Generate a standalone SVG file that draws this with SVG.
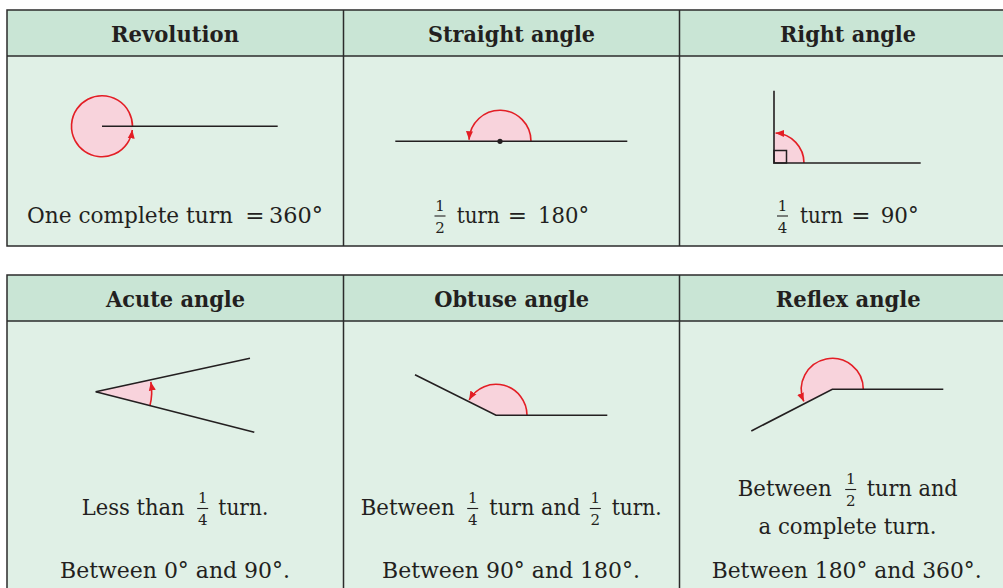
<svg xmlns="http://www.w3.org/2000/svg" width="1003" height="588" viewBox="0 0 1003 588" font-family="DejaVu Serif, Liberation Serif, serif">
<style>
.hd{fill:#c9e5d5}
.bd{fill:#e0f0e6}
.bo{fill:none;stroke:#2b2b2b;stroke-width:1.5}
.ht{font-weight:bold;font-size:23px;fill:#231f20;text-anchor:middle}
.t{font-size:23px;fill:#231f20}
.m{text-anchor:middle}
.e{text-anchor:middle}
.f{font-size:15px;fill:#231f20;text-anchor:middle}
.fb{stroke:#231f20;stroke-width:1.1}
.ray{fill:none;stroke:#231f20;stroke-width:1.6}
.pk{fill:#f8d3dc;stroke:none}
.arc{fill:none;stroke:#e31e25;stroke-width:1.6}
</style>
<defs>
<marker id="ah" markerUnits="userSpaceOnUse" markerWidth="9" markerHeight="8" refX="8.5" refY="4" orient="auto">
<path d="M0,0.5 L8.5,4 L0,7.5 Z" fill="#e31e25"/>
</marker>
</defs>
<rect width="1003" height="588" fill="#ffffff"/>

<g id="table1">
<rect class="hd" x="7" y="10" width="1010" height="46"/>
<rect class="bd" x="7" y="56" width="1010" height="190"/>
<rect class="bo" x="7" y="10" width="1010" height="236"/>
<line class="bo" x1="7" y1="56" x2="1017" y2="56"/>
<line class="bo" x1="343.5" y1="10" x2="343.5" y2="246"/>
<line class="bo" x1="679.5" y1="10" x2="679.5" y2="246"/>
</g>
<g id="table2">
<rect class="hd" x="7" y="275" width="1010" height="46"/>
<rect class="bd" x="7" y="321" width="1010" height="280"/>
<rect class="bo" x="7" y="275" width="1010" height="326"/>
<line class="bo" x1="7" y1="321" x2="1017" y2="321"/>
<line class="bo" x1="343.5" y1="275" x2="343.5" y2="601"/>
<line class="bo" x1="679.5" y1="275" x2="679.5" y2="601"/>
</g>

<g id="revolution">
<text class="ht" x="175" y="42" textLength="128" lengthAdjust="spacingAndGlyphs">Revolution</text>
<circle class="pk" cx="102" cy="126.3" r="30.5"/>
<path class="arc" d="M132.5,126.3 A30.5 30.5 0 1 0 132.27,130.0" marker-end="url(#ah)"/>
<line class="ray" x1="102" y1="126.3" x2="277.7" y2="126.3"/>
<text class="t" x="27" y="222.5" textLength="206" lengthAdjust="spacingAndGlyphs">One complete turn</text>
<text class="t e" x="255" y="222.5">=</text>
<text class="t" x="269" y="222.5" textLength="54" lengthAdjust="spacingAndGlyphs">360°</text>
</g>

<g id="straight">
<text class="ht" x="511.5" y="42" textLength="167" lengthAdjust="spacingAndGlyphs">Straight angle</text>
<path class="pk" d="M469,141.3 A31 31 0 0 1 531,141.3 Z"/>
<path class="arc" d="M531,141.3 A31 31 0 0 0 469.04,139.7" marker-end="url(#ah)"/>
<line class="ray" x1="395.3" y1="141.3" x2="627.3" y2="141.3"/>
<circle cx="500" cy="141.3" r="2.6" fill="#231f20"/>
<text class="f" x="440" y="210.7">1</text>
<line class="fb" x1="434.5" y1="216" x2="445.5" y2="216"/>
<text class="f" x="440" y="232.7">2</text>
<text class="t" x="456.7" y="222.5" textLength="43" lengthAdjust="spacingAndGlyphs">turn</text>
<text class="t e" x="517.3" y="222.5">=</text>
<text class="t" x="538" y="222.5" textLength="51" lengthAdjust="spacingAndGlyphs">180°</text>
</g>

<g id="right">
<text class="ht" x="848" y="42" textLength="136" lengthAdjust="spacingAndGlyphs">Right angle</text>
<path class="pk" d="M774,163 L804,163 A30 30 0 0 0 774,133 Z"/>
<path class="arc" d="M804,163 A30 30 0 0 0 775.57,133.04" marker-end="url(#ah)"/>
<rect x="774" y="150.5" width="12.5" height="12.5" fill="none" stroke="#231f20" stroke-width="1.5"/>
<polyline class="ray" points="774,90.7 774,163 920.7,163"/>
<text class="f" x="782.5" y="210.7">1</text>
<line class="fb" x1="777" y1="216" x2="788" y2="216"/>
<text class="f" x="782.5" y="232.7">4</text>
<text class="t" x="800" y="222.5" textLength="43" lengthAdjust="spacingAndGlyphs">turn</text>
<text class="t e" x="860.8" y="222.5">=</text>
<text class="t" x="880.7" y="222.5" textLength="38" lengthAdjust="spacingAndGlyphs">90°</text>
</g>

<g id="acute">
<text class="ht" x="175.5" y="307" textLength="139" lengthAdjust="spacingAndGlyphs">Acute angle</text>
<path class="pk" d="M95.7,391.7 L149.94,405.63 A56 56 0 0 0 150.44,379.87 Z"/>
<path class="arc" d="M149.94,405.63 A56 56 0 0 0 150.85,381.98" marker-end="url(#ah)"/>
<line class="ray" x1="95.7" y1="391.7" x2="250" y2="358.3"/>
<line class="ray" x1="95.7" y1="391.7" x2="254.3" y2="432.3"/>
<text class="t" x="81.7" y="515" textLength="103" lengthAdjust="spacingAndGlyphs">Less than</text>
<text class="f" x="202.7" y="503.3">1</text>
<line class="fb" x1="197.2" y1="508.5" x2="208.2" y2="508.5"/>
<text class="f" x="202.7" y="525">4</text>
<text class="t" x="218.3" y="515" textLength="50" lengthAdjust="spacingAndGlyphs">turn.</text>
<text class="t m" x="175" y="578.3" textLength="230" lengthAdjust="spacingAndGlyphs">Between 0° and 90°.</text>
</g>

<g id="obtuse">
<text class="ht" x="511.7" y="307" textLength="155" lengthAdjust="spacingAndGlyphs">Obtuse angle</text>
<path class="pk" d="M496,415.3 L527,415.3 A31 31 0 0 0 468.28,401.42 Z"/>
<path class="arc" d="M527,415.3 A31 31 0 0 0 469.15,399.8" marker-end="url(#ah)"/>
<polyline class="ray" points="415,374.7 496,415.3 607.3,415.3"/>
<text class="t" x="360.7" y="515" textLength="94" lengthAdjust="spacingAndGlyphs">Between</text>
<text class="f" x="472.7" y="503.3">1</text>
<line class="fb" x1="467.2" y1="508.5" x2="478.2" y2="508.5"/>
<text class="f" x="472.7" y="525">4</text>
<text class="t" x="489.3" y="515" textLength="91" lengthAdjust="spacingAndGlyphs">turn and</text>
<text class="f" x="595.3" y="503.3">1</text>
<line class="fb" x1="589.8" y1="508.5" x2="600.8" y2="508.5"/>
<text class="f" x="595.3" y="525">2</text>
<text class="t" x="611.7" y="515" textLength="50" lengthAdjust="spacingAndGlyphs">turn.</text>
<text class="t m" x="511" y="578.3" textLength="258" lengthAdjust="spacingAndGlyphs">Between 90° and 180°.</text>
</g>

<g id="reflex">
<text class="ht" x="848.3" y="307" textLength="145" lengthAdjust="spacingAndGlyphs">Reflex angle</text>
<path class="pk" d="M832.3,389.3 L863.3,389.3 A31 31 0 1 0 804.73,403.47 Z"/>
<path class="arc" d="M863.3,389.3 A31 31 0 1 0 803.76,401.41" marker-end="url(#ah)"/>
<polyline class="ray" points="751.3,431 832.3,389.3 943.3,389.3"/>
<text class="t" x="737.7" y="496" textLength="94" lengthAdjust="spacingAndGlyphs">Between</text>
<text class="f" x="850.7" y="484.3">1</text>
<line class="fb" x1="845.2" y1="489.5" x2="856.2" y2="489.5"/>
<text class="f" x="850.7" y="506">2</text>
<text class="t" x="866.7" y="496" textLength="91" lengthAdjust="spacingAndGlyphs">turn and</text>
<text class="t m" x="847.5" y="534" textLength="178" lengthAdjust="spacingAndGlyphs">a complete turn.</text>
<text class="t m" x="846.7" y="578.3" textLength="270" lengthAdjust="spacingAndGlyphs">Between 180° and 360°.</text>
</g>
</svg>
